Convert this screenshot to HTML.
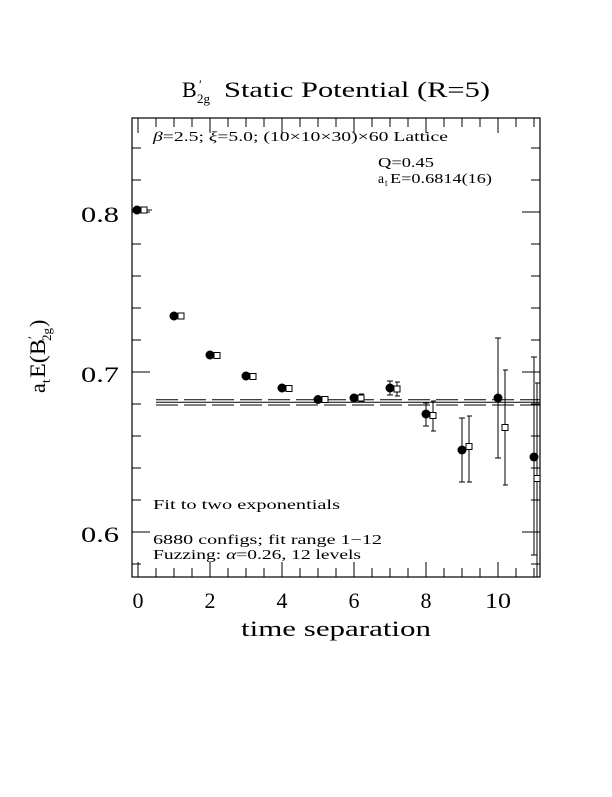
<!DOCTYPE html>
<html><head><meta charset="utf-8"><style>
html,body{margin:0;padding:0;background:#fff}
svg text{font-family:"Liberation Serif",serif;fill:#000}
</style></head><body>
<svg width="612" height="792" viewBox="0 0 612 792" xmlns="http://www.w3.org/2000/svg">
<rect width="612" height="792" fill="#fff"/>
<!-- title -->
<text x="182" y="97" font-size="22">B</text>
<text x="199" y="89" font-size="13">′</text>
<text x="197" y="103" font-size="13">2g</text>
<text x="224" y="97" font-size="22" textLength="266" lengthAdjust="spacingAndGlyphs">Static Potential (R=5)</text>
<!-- frame -->
<rect x="132" y="118" width="408" height="459" fill="none" stroke="#000" stroke-width="1.2"/>
<g stroke="#000" stroke-width="1">
<path d="M138 577v-15M210 577v-15M282 577v-15M354 577v-15M426 577v-15M498 577v-15
M138 118v15M210 118v15M282 118v15M354 118v15M426 118v15M498 118v15
M156 577v-9M174 577v-9M192 577v-9M228 577v-9M246 577v-9M264 577v-9M300 577v-9M318 577v-9M336 577v-9M372 577v-9M390 577v-9M408 577v-9M444 577v-9M462 577v-9M480 577v-9M516 577v-9M534 577v-9
M156 118v9M174 118v9M192 118v9M228 118v9M246 118v9M264 118v9M300 118v9M318 118v9M336 118v9M372 118v9M390 118v9M408 118v9M444 118v9M462 118v9M480 118v9M516 118v9M534 118v9"/>
<path d="M132 212h18M132 372h18M132 532h18M540 212h-18M540 372h-18M540 532h-18
M132 148h9M132 180h9M132 244h9M132 276h9M132 308h9M132 340h9M132 404h9M132 436h9M132 468h9M132 500h9M132 564h9
M540 148h-9M540 180h-9M540 244h-9M540 276h-9M540 308h-9M540 340h-9M540 404h-9M540 436h-9M540 468h-9M540 500h-9M540 564h-9"/>
<path d="M156 402.2H540"/>
<path d="M156 399.8H540M156 405H540" stroke-dasharray="22,6"/>
<path d="M354 395v6M351 395h6M351 401h6
M390 381v14M387 381h6M387 395h6
M426 403v23M423 403h6M423 426h6
M462 418v64M459 418h6M459 482h6
M498 338v120M495 338h6M495 458h6
M534 357v198M531 357h6M531 555h6"/>
<path d="M144 210h8M361 394v8M359 394h5M359 402h5
M397 382v14M395 382h5M395 396h5
M433 401v30M431 401h5M431 431h5
M469 416v66M467 416h5M467 482h5
M505 370v115M503 370h5M503 485h5
M537 383v194M535 383h5"/>
</g>
<g fill="#000">
<circle cx="137" cy="210" r="4.5"/><circle cx="174" cy="316" r="4.5"/><circle cx="210" cy="355" r="4.5"/>
<circle cx="246" cy="376" r="4.5"/><circle cx="282" cy="388" r="4.5"/><circle cx="318" cy="399.5" r="4.5"/>
<circle cx="354" cy="398" r="4.5"/><circle cx="390" cy="388" r="4.5"/><circle cx="426" cy="414" r="4.5"/>
<circle cx="462" cy="450" r="4.5"/><circle cx="498" cy="398" r="4.5"/><circle cx="534" cy="457" r="4.5"/>
</g>
<g fill="#fff" stroke="#000" stroke-width="1">
<rect x="141" y="207" width="6" height="6"/><rect x="178" y="313" width="6" height="6"/><rect x="214" y="352.5" width="6" height="6"/>
<rect x="250" y="373.5" width="6" height="6"/><rect x="286" y="385.5" width="6" height="6"/><rect x="322" y="396.5" width="6" height="6"/>
<rect x="358" y="395" width="6" height="6"/><rect x="394" y="386" width="6" height="6"/><rect x="430" y="412.5" width="6" height="6"/>
<rect x="466" y="443.5" width="6" height="6"/><rect x="502" y="424.5" width="6" height="6"/><rect x="534" y="475.5" width="6" height="6"/>
</g>
<g font-size="22" text-anchor="middle">
<text x="138" y="608">0</text><text x="210" y="608">2</text><text x="282" y="608">4</text>
<text x="354" y="608">6</text><text x="426" y="608">8</text><text x="498" y="608" textLength="26" lengthAdjust="spacingAndGlyphs">10</text>
</g>
<g font-size="22">
<text x="81" y="222" textLength="38" lengthAdjust="spacingAndGlyphs">0.8</text>
<text x="81" y="382" textLength="38" lengthAdjust="spacingAndGlyphs">0.7</text>
<text x="81" y="542" textLength="38" lengthAdjust="spacingAndGlyphs">0.6</text>
</g>
<text x="241" y="636" font-size="22" textLength="190" lengthAdjust="spacingAndGlyphs">time separation</text>
<!-- y label -->
<g transform="translate(45,393) rotate(-90)">
<text x="0" y="0" font-size="22">a</text>
<text x="10" y="5" font-size="13">t</text>
<text x="15" y="0" font-size="22" textLength="39" lengthAdjust="spacingAndGlyphs">E(B</text>
<text x="54" y="-8" font-size="13">′</text>
<text x="52" y="6" font-size="13">2g</text>
<text x="66" y="0" font-size="22">)</text>
</g>
<g font-size="13.5">
<text x="153" y="141" textLength="295" lengthAdjust="spacingAndGlyphs"><tspan font-style="italic">β</tspan>=2.5; <tspan font-style="italic">ξ</tspan>=5.0; (10×10×30)×60 Lattice</text>
<text x="378" y="167" textLength="56" lengthAdjust="spacingAndGlyphs">Q=0.45</text>
<text x="378" y="183">a</text><text x="385" y="186" font-size="9">t</text>
<text x="390" y="183" textLength="102" lengthAdjust="spacingAndGlyphs">E=0.6814(16)</text>
<text x="153" y="509" textLength="187" lengthAdjust="spacingAndGlyphs">Fit to two exponentials</text>
<text x="153" y="544" textLength="229" lengthAdjust="spacingAndGlyphs">6880 configs; fit range 1−12</text>
<text x="153" y="559" textLength="208" lengthAdjust="spacingAndGlyphs">Fuzzing: <tspan font-style="italic">α</tspan>=0.26, 12 levels</text>
</g>
</svg>
</body></html>
